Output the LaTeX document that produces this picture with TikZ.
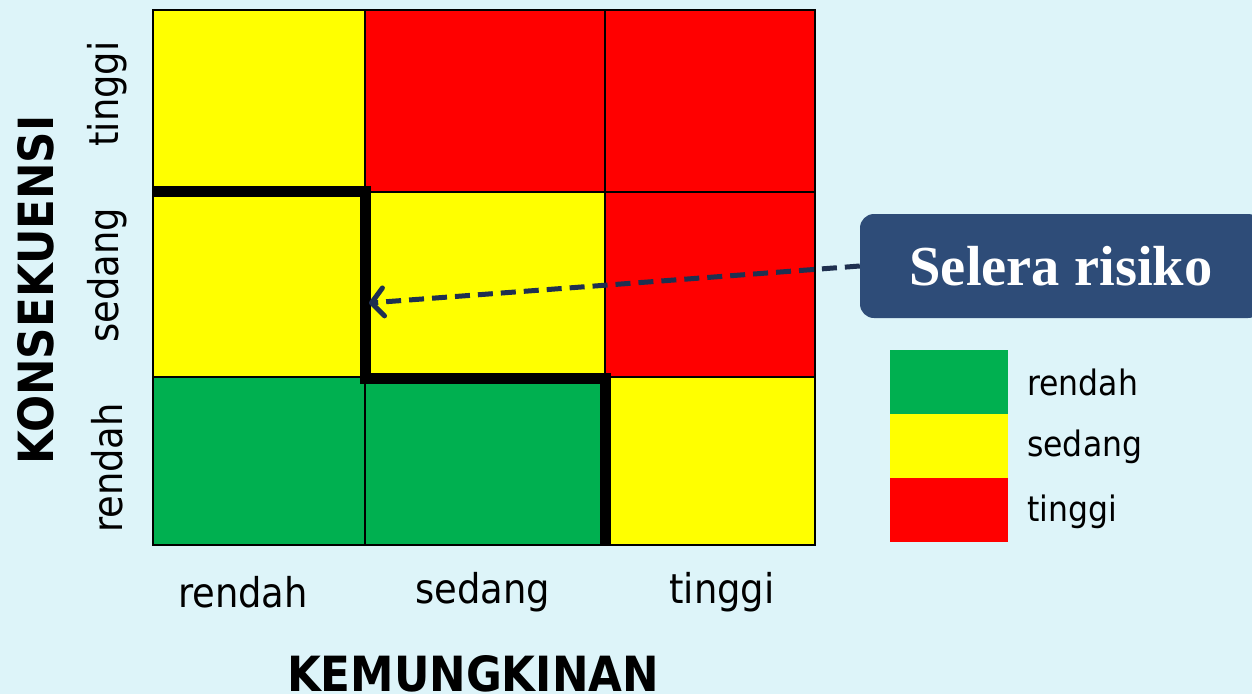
\documentclass[tikz,border=0pt]{standalone}
\usepackage{fontspec}
\setmainfont{DejaVu Sans}[FakeStretch=0.9]
\newfontfamily\calloutfont{Liberation Serif}
\usetikzlibrary{arrows.meta}
\definecolor{bgc}{HTML}{DDF4F9}
\definecolor{cyel}{HTML}{FFFF00}
\definecolor{cred}{HTML}{FF0000}
\definecolor{cgrn}{HTML}{00B050}
\definecolor{navy}{HTML}{2E4C78}
\definecolor{arrc}{HTML}{1F3050}
\tikzset{
  cell/.style={draw=black, line width=2pt},
  axlab/.style={font=\fontsize{41}{48}\selectfont, inner sep=0pt},
  leglab/.style={font=\fontsize{35}{42}\selectfont, inner sep=0pt, anchor=west},
  axtitle/.style={font=\bfseries\fontsize{48.5}{56}\selectfont, inner sep=0pt},
  apetite/.style={line width=11pt, line cap=butt, line join=miter},
  callout/.style={fill=navy, rounded corners=14pt, minimum width=402pt, minimum height=104pt, text=white,
    font=\calloutfont\bfseries\fontsize{56.5}{62}\selectfont, inner sep=0pt},
  selarrow/.style={draw=arrc, line width=5pt, dash pattern=on 15pt off 8pt,
    -{Straight Barb[length=12pt,width=28pt,line cap=round,line join=round]}},
}
\begin{document}
\begin{tikzpicture}[x=1pt,y=-1pt]
\useasboundingbox (0,0) rectangle (1252,694);
\fill[bgc] (0,0) rectangle (1252,694);
% grid columns 153,365,605,815 ; rows 10,192,377,545
\path[cell, fill=cyel] (153,10) rectangle (365,192);
\path[cell, fill=cred] (365,10) rectangle (605,192);
\path[cell, fill=cred] (605,10) rectangle (815,192);
\path[cell, fill=cyel] (153,192) rectangle (365,377);
\path[cell, fill=cyel] (365,192) rectangle (605,377);
\path[cell, fill=cred] (605,192) rectangle (815,377);
\path[cell, fill=cgrn] (153,377) rectangle (365,545);
\path[cell, fill=cgrn] (365,377) rectangle (605,545);
\path[cell, fill=cyel] (605,377) rectangle (815,545);
% risk appetite line
\coordinate (p1) at (153,191);
\coordinate (p2) at (365,191);
\coordinate (p3) at (365,378);
\coordinate (p4) at (605,378);
\coordinate (p5) at (605,545);
\draw[apetite] (p1) -- (p2) -- (p3) -- (p4) -- (p5);
% axis labels
\node[axlab] (xr) at (243,592) {rendah};
\node[axlab] (xs) at (483,592) {sedang};
\node[axlab] (xt) at (722,592) {tinggi};
\node[axlab, rotate=90] (yt) at (107,94) {tinggi};
\node[axlab, rotate=90] (ys) at (107,275) {sedang};
\node[axlab, rotate=90] (yr) at (107,468) {rendah};
\node[axtitle] (xtitle) at (473,674) {KEMUNGKINAN};
\node[axtitle, rotate=90] (ytitle) at (36,290) {KONSEKUENSI};
% legend
\path[fill=cgrn] (890,350) rectangle (1008,414);
\path[fill=cyel] (890,414) rectangle (1008,478);
\path[fill=cred] (890,478) rectangle (1008,542);
\node[leglab] (lr) at (1027,382) {rendah};
\node[leglab] (ls) at (1027,447) {sedang};
\node[leglab] (lt) at (1027,512) {tinggi};
% callout
\node[callout] (sel) at (1061,266) {Selera risiko};
\coordinate (tip) at (369,303);
\draw[selarrow] (sel.west) -- (tip);
\end{tikzpicture}
\end{document}
